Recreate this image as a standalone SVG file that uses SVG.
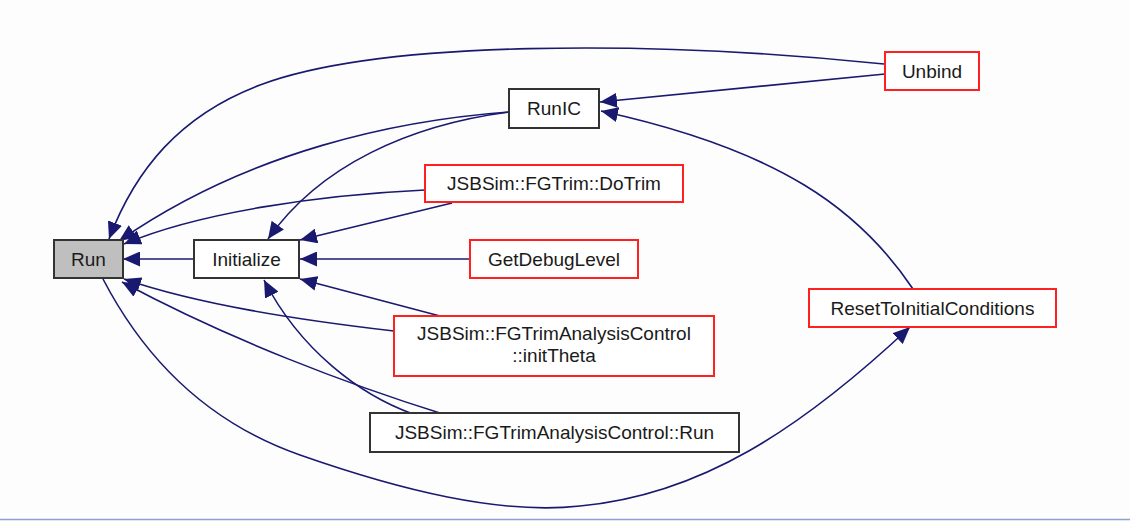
<svg xmlns="http://www.w3.org/2000/svg" width="1130" height="521" viewBox="0 0 1130 521">
<style>
.n rect{stroke-width:2}
.blk{fill:#ffffff;stroke:#333333}
.red{fill:#ffffff;stroke:#ff2020}
.root{fill:#bfbfbf;stroke:#333333}
text{font-family:"Liberation Sans",Arial,sans-serif;font-size:19px;fill:#1a1a1a;text-anchor:middle}
.e path{fill:none;stroke:#191970;stroke-width:1.6;marker-end:url(#ah)}
</style>
<defs>
<marker id="ah" markerUnits="userSpaceOnUse" markerWidth="17" markerHeight="15" viewBox="0 0 17 15" refX="17" refY="7.5" orient="auto">
<path d="M0,0 L17,7.5 L0,15 z" fill="#191970" stroke="none"/>
</marker>
</defs>
<rect x="0" y="0" width="1130" height="521" fill="#fdfdfd"/>
<line x1="0" y1="519.5" x2="1130" y2="519.5" stroke="#8ea2d2" stroke-width="1.5"/>
<g class="e" id="edges">
<path d="M884,64 C650,40 380,40 260,85 C180,115 135,170 109,239"/>
<path d="M885,74 L600,102"/>
<path d="M509,112 C400,120 250,150 119,241"/>
<path d="M509,112 C410,125 320,165 268,239"/>
<path d="M913,289 C860,210 780,150 601,111"/>
<path d="M425,190 C320,195 200,212 124,244"/>
<path d="M452,203 L300,240"/>
<path d="M470,259 L300,259"/>
<path d="M194,259 L123,259"/>
<path d="M440,316 L300,279"/>
<path d="M394,331 C300,320 200,305 124,279"/>
<path d="M413,414 C360,395 300,350 264,280"/>
<path d="M443,414 C350,385 230,340 122,282"/>
<path d="M103,279 C140,350 200,420 300,455 C400,490 500,515 580,506 C700,495 800,430 910,327"/>
</g>
<g class="n" id="node_run"><rect class="root" x="54" y="240" width="69" height="38"/><text x="88.5" y="265.5">Run</text></g>
<g class="n" id="node_initialize"><rect class="blk" x="194" y="240" width="105" height="38"/><text x="246.5" y="265.5">Initialize</text></g>
<g class="n" id="node_runic"><rect class="blk" x="509" y="89" width="90" height="39"/><text x="554" y="115">RunIC</text></g>
<g class="n" id="node_dotrim"><rect class="red" x="425" y="165" width="258" height="37"/><text x="554" y="190">JSBSim::FGTrim::DoTrim</text></g>
<g class="n" id="node_getdebuglevel"><rect class="red" x="470" y="240" width="168" height="38"/><text x="554" y="265.5">GetDebugLevel</text></g>
<g class="n" id="node_inittheta"><rect class="red" x="394" y="316" width="320" height="60"/><text x="554" y="340">JSBSim::FGTrimAnalysisControl</text><text x="554" y="362">::initTheta</text></g>
<g class="n" id="node_fgtacrun"><rect class="blk" x="370" y="413" width="369" height="39"/><text x="554.5" y="439">JSBSim::FGTrimAnalysisControl::Run</text></g>
<g class="n" id="node_unbind"><rect class="red" x="885" y="52" width="94" height="38"/><text x="932" y="77.5">Unbind</text></g>
<g class="n" id="node_reset"><rect class="red" x="809" y="289" width="247" height="38"/><text x="932.5" y="314.5">ResetToInitialConditions</text></g>
</svg>
